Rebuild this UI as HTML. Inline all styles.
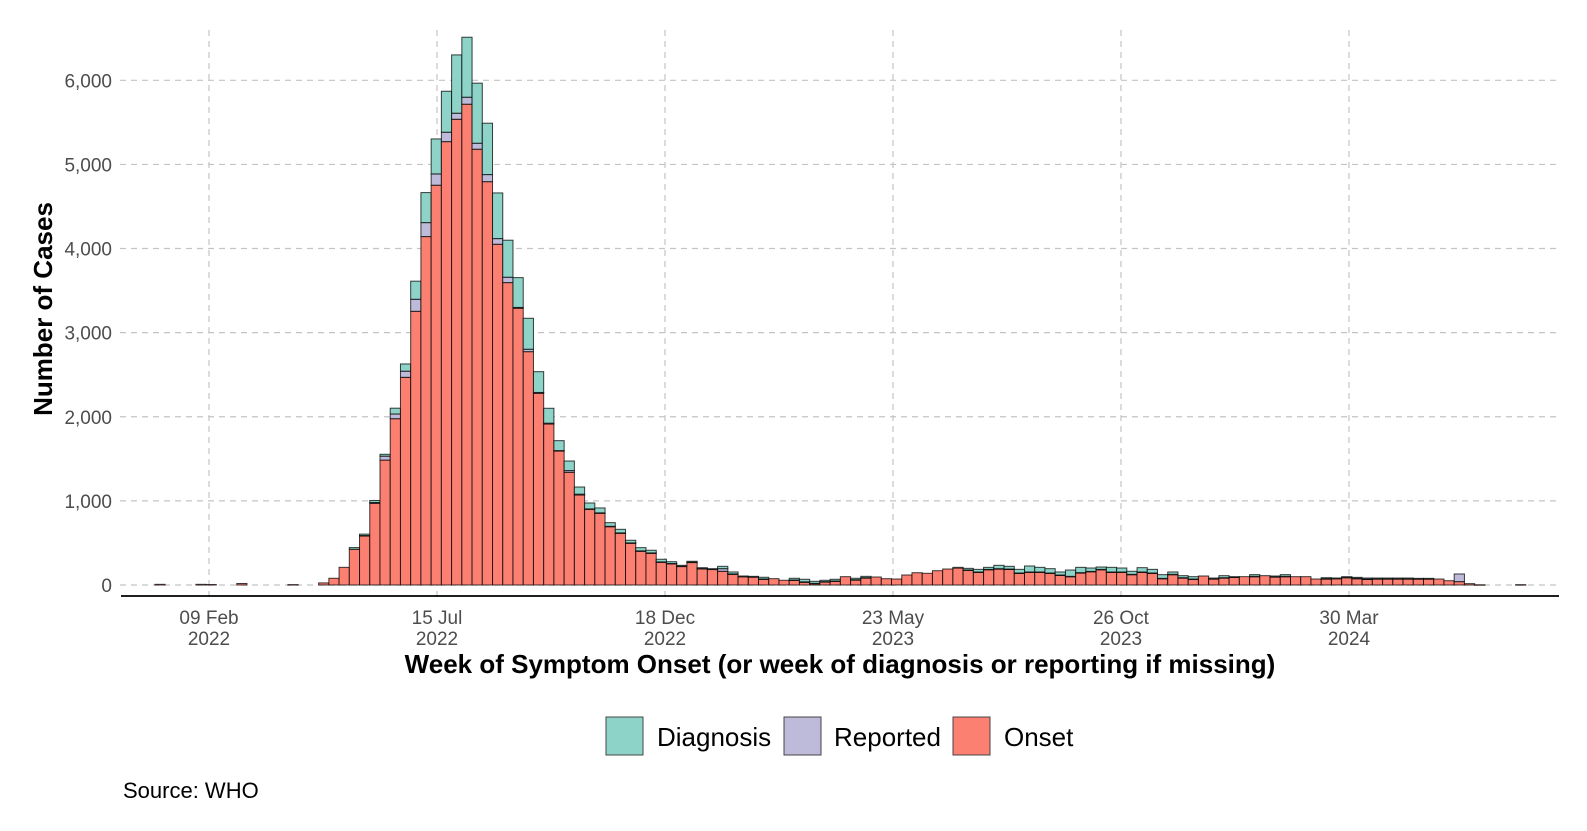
<!DOCTYPE html>
<html><head><meta charset="utf-8"><style>
html,body{margin:0;padding:0;background:#fff;}
svg{display:block;font-family:"Liberation Sans",Arial,sans-serif;}
</style></head><body>
<svg id="chart" width="1587" height="831" viewBox="0 0 1587 831" xmlns="http://www.w3.org/2000/svg">
<g id="grid"></g>
<g id="bars"></g>
<g id="axes"></g>
<text transform="translate(52,309) rotate(-90)" text-anchor="middle" font-size="26" font-weight="bold" fill="#000">Number of Cases</text>
<text x="840" y="673" text-anchor="middle" font-size="26" font-weight="bold" fill="#000">Week of Symptom Onset (or week of diagnosis or reporting if missing)</text>
<g>
<g><rect x="606" y="717" width="37" height="38" fill="#8dd3c7" stroke="#444" stroke-width="1"/><text x="657" y="746" font-size="26" fill="#000">Diagnosis</text></g>
<g><rect x="784" y="717" width="37" height="38" fill="#bebada" stroke="#444" stroke-width="1"/><text x="834" y="746" font-size="26" fill="#000">Reported</text></g>
<g><rect x="953" y="717" width="37" height="38" fill="#fb8072" stroke="#444" stroke-width="1"/><text x="1004" y="746" font-size="26" fill="#000">Onset</text></g>
</g>
<text x="123" y="798" font-size="22" fill="#000">Source: WHO</text>
</svg>
<script>
const firstWeek = "2022-01-03";
const onset = [8,0,0,0,8,6,0,0,18,0,0,0,0,5,0,0,25,80,210,425,583,971,1485,1977,2469,3254,
4142,4753,5271,5537,5716,5181,4795,4051,3595,3290,2774,2279,1914,1593,1340,1070,900,853,693,615,496,401,377,270,253,222,
270,194,187,163,127,99,95,68,75,56,56,32,16,36,44,99,59,83,95,75,71,119,146,139,170,190,
202,175,151,182,190,186,139,151,151,139,115,99,143,158,182,151,151,123,151,139,75,123,83,67,107,71,
83,91,99,99,111,95,99,99,99,71,71,75,87,75,67,71,71,71,71,71,71,71,51,40,16,3,
0,0,0,4];
const reported = [0,0,0,0,0,0,0,0,0,0,0,0,0,0,0,0,0,0,0,0,5,10,47,56,73,143,
166,134,112,72,83,71,84,67,64,10,29,10,10,5,20,10,5,5,5,5,5,5,5,5,3,2,
2,2,2,31,5,3,3,4,0,0,4,6,4,4,4,0,4,4,0,0,0,0,0,0,0,0,
0,4,4,4,4,4,4,4,4,4,4,4,4,4,4,4,4,4,4,4,4,4,4,4,0,4,
4,4,0,4,0,4,4,0,0,0,4,4,4,4,4,4,4,4,4,4,4,0,0,91,0,0,
0,0,0,0];
const diagnosis = [0,0,0,0,0,0,0,0,0,0,0,0,0,0,0,0,0,0,0,20,17,24,22,69,86,215,
357,416,487,693,713,714,611,543,440,354,368,247,177,118,114,85,70,58,43,42,31,38,31,31,21,10,
10,10,5,28,23,5,5,20,0,0,20,30,24,16,20,0,17,16,0,0,0,0,0,0,0,0,
8,19,31,24,40,32,43,71,55,51,36,75,63,40,28,55,47,36,51,43,44,28,24,28,0,8,
24,4,0,20,0,8,20,0,0,0,12,4,8,12,12,8,8,8,8,4,4,0,0,0,0,0,
0,0,0,0];
const yTicks = [0,1000,2000,3000,4000,5000,6000];
const yTickLabels = ["0","1,000","2,000","3,000","4,000","5,000","6,000"];
const xTickDates = ["2022-02-09","2022-07-15","2022-12-18","2023-05-23","2023-10-26","2024-03-30"];
const xTickLabels = [["09 Feb","2022"],["15 Jul","2022"],["18 Dec","2022"],["23 May","2023"],["26 Oct","2023"],["30 Mar","2024"]];

const NS="http://www.w3.org/2000/svg";
const DAY=86400000, origin=Date.UTC(2022,1,9);
function dayOf(s){const p=s.split("-");return (Date.UTC(+p[0],+p[1]-1,+p[2])-origin)/DAY;}
function xScale(d){return 209+1.4615*d;}
function yScale(v){return 585-v*(504.7/6000);}
function mk(tag,attrs,parent){const e=document.createElementNS(NS,tag);for(const k in attrs)e.setAttribute(k,attrs[k]);parent.appendChild(e);return e;}
const grid=document.getElementById("grid"),bars=document.getElementById("bars"),axes=document.getElementById("axes");
yTicks.forEach((v,i)=>{
  const l=mk("line",{x1:120,x2:1559,y1:yScale(v),y2:yScale(v),stroke:"#c4c4c4","stroke-width":1.2,"stroke-dasharray":"6,5"},grid);
  
  
  const t=mk("text",{x:112,y:yScale(v)+7,"text-anchor":"end","font-size":19,fill:"#4d4d4d"},axes);
  t.textContent=yTickLabels[i];
  
  
});
xTickDates.forEach((s,i)=>{
  const x=xScale(dayOf(s));
  const l=mk("line",{x1:x,x2:x,y1:30,y2:600,stroke:"#c4c4c4","stroke-width":1.2,"stroke-dasharray":"6,5"},grid);
  
  
  const t=mk("text",{x:x,y:624,"text-anchor":"middle","font-size":19,fill:"#4d4d4d"},axes);
  t.textContent=xTickLabels[i][0];
  
  
  const t2=mk("text",{x:x,y:645,"text-anchor":"middle","font-size":19,fill:"#4d4d4d"},axes);
  t2.textContent=xTickLabels[i][1];
  
  
});
const ax=mk("line",{x1:121,x2:1559,y1:596,y2:596,stroke:"#000","stroke-width":1.8},axes);


const d0=dayOf(firstWeek);
const series=[[onset,"#fb8072","onset"],[reported,"#bebada","reported"],[diagnosis,"#8dd3c7","diagnosis"]];
onset.forEach((_,i)=>{
  const x0=xScale(d0+7*i), x1=xScale(d0+7*i+7);
  let base=0;
  series.forEach(([arr,col,nm])=>{
    const v=arr[i]; if(!v){return;}
    const yt=yScale(base+v), yb=yScale(base);
    const r=mk("rect",{x:x0,y:yt,width:x1-x0,height:Math.max(yb-yt,0.5),fill:col,stroke:"rgba(0,0,0,0.75)","stroke-width":1},bars);
    
    
    base+=v;
  });
});
</script>
</body></html>
